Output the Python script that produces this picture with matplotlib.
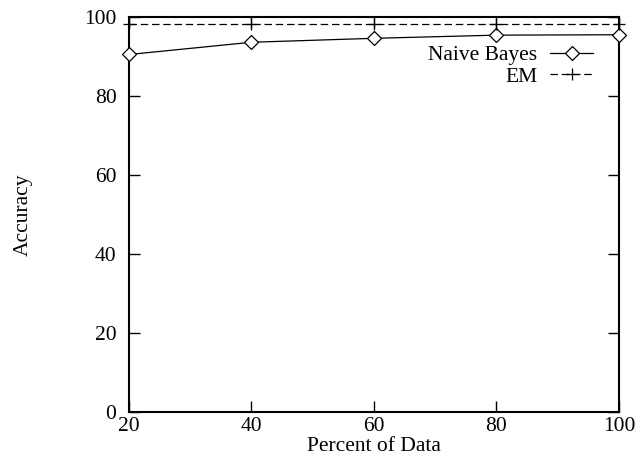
import matplotlib
matplotlib.use("Agg")
import matplotlib.pyplot as plt

plt.rcParams['font.family'] = ['Liberation Serif', 'DejaVu Serif']
plt.rcParams['font.size'] = 15.5

percent = [20, 40, 60, 80, 100]
naive_bayes = [90.5, 93.6, 94.6, 95.4, 95.5]
em = [98.2, 98.2, 98.2, 98.2, 98.2]

fig = plt.figure(figsize=(6.36, 4.65), dpi=100)
ax = fig.add_axes([0.2028, 0.114, 0.7704, 0.8495])

ax.plot(percent, naive_bayes, color='black', linewidth=0.9, marker='D',
        markersize=7.5, markerfacecolor='white', markeredgecolor='black',
        markeredgewidth=0.9, label='Naive Bayes', clip_on=False, zorder=3)
ax.plot(percent, em, color='black', linewidth=0.9, linestyle=(0, (6, 3)),
        marker='+', markersize=8, markeredgewidth=0.9, label='EM',
        clip_on=False, zorder=3)

ax.set_xlim(20, 100)
ax.set_ylim(0, 100)
ax.set_xticks([20, 40, 60, 80, 100])
ax.set_yticks([0, 20, 40, 60, 80, 100])
ax.tick_params(direction='in', length=8, width=1, top=True, right=True)
ax.tick_params(axis='y', pad=9)
ax.tick_params(axis='x', pad=3.5)
for s in ax.spines.values():
    s.set_linewidth(1.5)

ax.set_xlabel('Percent of Data', fontsize=15.5, labelpad=0.5)
ax.set_ylabel('Accuracy', labelpad=37)

ax.legend(loc='upper right', bbox_to_anchor=(0.965, 0.95), frameon=False,
          markerfirst=False, handlelength=2.0, handletextpad=0.6,
          labelspacing=0.05, borderaxespad=0)

fig.savefig('out.png', dpi=100)
